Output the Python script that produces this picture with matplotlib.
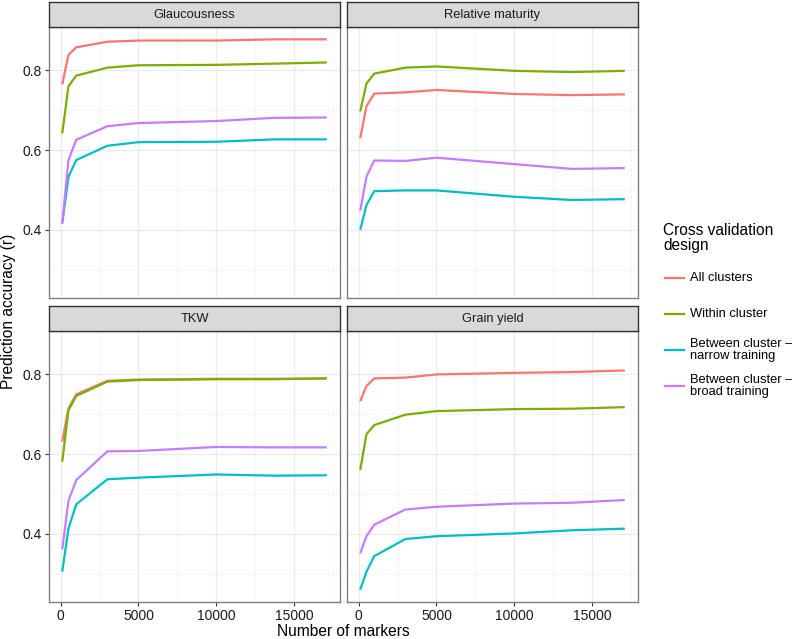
import matplotlib.pyplot as plt
from matplotlib.lines import Line2D

plt.rcParams['font.family'] = ['Liberation Sans', 'DejaVu Sans']

# number of markers used
markers = [100, 500, 1000, 3000, 5000, 10000, 13700, 17100]

traits = ["Glaucousness", "Relative maturity", "TKW", "Grain yield"]
designs = ["All clusters", "Within cluster",
           "Between cluster \u2013\nnarrow training",
           "Between cluster \u2013\nbroad training"]
colors = ["#F8766D", "#7CAE00", "#00BFC4", "#C77CFF"]

# prediction accuracy (r) per trait, per design
glauc_all = [0.765, 0.839, 0.858, 0.872, 0.875, 0.875, 0.878, 0.878]
glauc_within = [0.642, 0.760, 0.787, 0.807, 0.813, 0.814, 0.817, 0.820]
glauc_narrow = [0.416, 0.533, 0.575, 0.611, 0.620, 0.621, 0.627, 0.627]
glauc_broad = [0.416, 0.575, 0.626, 0.660, 0.668, 0.673, 0.681, 0.682]

mat_all = [0.630, 0.710, 0.742, 0.745, 0.751, 0.741, 0.738, 0.740]
mat_within = [0.697, 0.767, 0.792, 0.807, 0.810, 0.799, 0.796, 0.799]
mat_narrow = [0.400, 0.462, 0.497, 0.499, 0.499, 0.483, 0.475, 0.477]
mat_broad = [0.448, 0.533, 0.574, 0.573, 0.581, 0.565, 0.553, 0.555]

tkw_all = [0.631, 0.715, 0.750, 0.784, 0.787, 0.789, 0.789, 0.790]
tkw_within = [0.581, 0.710, 0.746, 0.782, 0.786, 0.788, 0.788, 0.790]
tkw_narrow = [0.305, 0.413, 0.474, 0.537, 0.541, 0.549, 0.546, 0.547]
tkw_broad = [0.361, 0.483, 0.535, 0.607, 0.608, 0.618, 0.617, 0.617]

gy_all = [0.733, 0.771, 0.790, 0.792, 0.800, 0.804, 0.806, 0.810]
gy_within = [0.560, 0.650, 0.673, 0.699, 0.708, 0.713, 0.714, 0.718]
gy_narrow = [0.260, 0.305, 0.344, 0.387, 0.394, 0.401, 0.409, 0.413]
gy_broad = [0.351, 0.394, 0.423, 0.461, 0.468, 0.476, 0.478, 0.485]

data = {
    "Glaucousness": [glauc_all, glauc_within, glauc_narrow, glauc_broad],
    "Relative maturity": [mat_all, mat_within, mat_narrow, mat_broad],
    "TKW": [tkw_all, tkw_within, tkw_narrow, tkw_broad],
    "Grain yield": [gy_all, gy_within, gy_narrow, gy_broad],
}

W, H = 792, 639
fig = plt.figure(figsize=(W / 100, H / 100), dpi=100)

# panel positions in pixels: (strip_top, plot_top, plot_bottom)
lefts = [49, 347]
pw = 291
rows = [(2, 27, 298), (306, 331, 602)]

for i, trait in enumerate(traits):
    r, c = divmod(i, 2)
    x0 = lefts[c]
    st, pt, pb = rows[r]
    ax = fig.add_axes([x0 / W, 1 - pb / H, pw / W, (pb - pt) / H])
    sax = fig.add_axes([x0 / W, 1 - pt / H, pw / W, (pt - st) / H])

    for vals, col in zip(data[trait], colors):
        ax.plot(markers, vals, color=col, lw=1.6, solid_capstyle='butt')

    ax.set_xlim(-750, 17950)
    ax.set_ylim(0.229, 0.909)
    ax.set_xticks([0, 5000, 10000, 15000])
    ax.set_xticks([2500, 7500, 12500, 17500], minor=True)
    ax.set_yticks([0.4, 0.6, 0.8])
    ax.set_yticks([0.3, 0.5, 0.7], minor=True)
    ax.set_yticklabels(['0.4', '0.6', '0.8'])
    ax.grid(True, which='major', color='#EBEBEB', lw=0.9)
    ax.grid(True, which='minor', color='#F2F2F2', lw=0.5)
    ax.set_axisbelow(True)
    for s in ax.spines.values():
        s.set_color('#7F7F7F')
        s.set_linewidth(1.0)
    ax.tick_params(which='major', length=3, color='#333333', labelsize=10,
                   labelcolor='#1a1a1a', pad=2)
    ax.tick_params(which='minor', length=0)
    if c == 1:
        ax.tick_params(axis='y', which='both', left=False, labelleft=False)
    if r == 0:
        ax.tick_params(axis='x', which='both', bottom=False, labelbottom=False)

    sax.set_xticks([])
    sax.set_yticks([])
    sax.set_facecolor('#D9D9D9')
    for s in sax.spines.values():
        s.set_color('#333333')
        s.set_linewidth(1.0)
    sax.text(0.5, 0.48, trait, ha='center', va='center', fontsize=9.3,
             color='#1a1a1a', transform=sax.transAxes)

fig.text(9 / W, 1 - 311 / H, "Prediction accuracy (r)", rotation=90,
         ha='center', va='center', fontsize=11.2)
fig.text(343 / W, 1 - 631 / H, "Number of markers", ha='center',
         va='center', fontsize=11.2)

# legend
fig.text(663 / W, 1 - 238 / H, "Cross validation\ndesign", ha='left',
         va='center', fontsize=11.2, linespacing=1.0)
ys = [278, 314, 350, 386]
for y, lab, col in zip(ys, designs, colors):
    fig.add_artist(Line2D([665 / W, 684 / W], [1 - y / H, 1 - y / H],
                          color=col, lw=1.6))
    fig.text(690 / W, 1 - y / H, lab, ha='left', va='center', fontsize=9.3,
             linespacing=0.95)

plt.savefig("out.png", dpi=100)
